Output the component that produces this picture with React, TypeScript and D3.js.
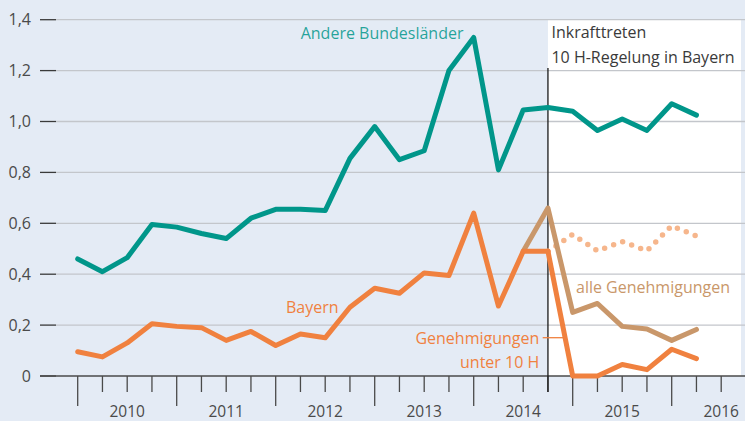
import React from "react";
import * as d3 from "d3";

// Werte je Quartal, Index 0 = 1. Quartal 2010
const andereLaender = [
  0.46, 0.41, 0.465, 0.595, 0.585, 0.56, 0.54, 0.62, 0.655, 0.655, 0.65, 0.855, 0.98,
  0.85, 0.885, 1.2, 1.33, 0.81, 1.045, 1.055, 1.04, 0.965, 1.01, 0.965, 1.07, 1.025,
];
const bayern = [
  0.095, 0.075, 0.13, 0.205, 0.195, 0.19, 0.14, 0.175, 0.12, 0.165, 0.15, 0.27, 0.345,
  0.325, 0.405, 0.395, 0.64, 0.275, 0.49, 0.49,
];
// ab Quartal 19 (Inkrafttreten)
const unter10H = [0.49, 0, 0, 0.045, 0.025, 0.105, 0.068];
// ab Quartal 18
const alleGenehmigungen = [0.49, 0.66, 0.25, 0.285, 0.195, 0.185, 0.14, 0.183];
// gepunktete Linie ab Quartal 19
const gepunktet = [0.49, 0.556, 0.492, 0.528, 0.492, 0.59, 0.55];

const yTicks = [0, 0.2, 0.4, 0.6, 0.8, 1.0, 1.2, 1.4];
const jahre = ["2010", "2011", "2012", "2013", "2014", "2015", "2016"];
const stichtag = 19;

const W = 745;
const H = 421;
const font = "'Open Sans', sans-serif";

const teal = "#00968a";
const orange = "#f0813f";
const tan = "#c9976a";
const hellOrange = "#f6b68c";

const App = () => {
  //Skalen
  const x = d3.scaleLinear().domain([0, 24]).range([77.7, 671.7]);
  const y = d3.scaleLinear().domain([0, 1.4]).range([376, 19.7]);

  const line = d3
    .line<number>()
    .x((d, i) => x(i))
    .y((d) => y(d));
  const lineFrom = (start: number) =>
    d3
      .line<number>()
      .x((d, i) => x(i + start))
      .y((d) => y(d));

  const quarterTicks = d3.range(0, 27);
  const fmt = (v: number) => (v === 0 ? "0" : d3.format(".1f")(v).replace(".", ","));

  return (
    <svg
      width={W}
      height={H}
      style={{ position: "absolute", left: 0, top: 0, fontFamily: font }}
    >
      <rect width={W} height={H} fill="#e4ebf5" />
      {/* Zeit nach Inkrafttreten */}
      <rect
        x={x(stichtag)}
        y={y(1.4)}
        width={741 - x(stichtag)}
        height={y(0) - y(1.4)}
        fill="#ffffff"
      />

      {/* Gitter und Y-Achse */}
      {yTicks.map((t) => (
        <g key={t}>
          {t > 0 && (
            <line x1={56} x2={W} y1={y(t)} y2={y(t)} stroke="#c3c6cb" strokeWidth={1.3} />
          )}
          <line x1={40} x2={56} y1={y(t)} y2={y(t)} stroke="#3a3a3a" strokeWidth={1.3} />
          <text
            x={31}
            y={y(t)}
            dy="0.35em"
            textAnchor="end"
            fontSize={16}
            fill="#4a4a4a"
          >
            {fmt(t)}
          </text>
        </g>
      ))}

      {/* X-Achse */}
      <line x1={40} x2={W} y1={y(0)} y2={y(0)} stroke="#4a4a4a" strokeWidth={1.3} />
      {quarterTicks.map((q) => (
        <line
          key={q}
          x1={x(q)}
          x2={x(q)}
          y1={y(0)}
          y2={y(0) + (q % 4 === 0 ? 30 : 16)}
          stroke="#4a4a4a"
          strokeWidth={1.3}
        />
      ))}
      {jahre.map((j, i) => (
        <text
          key={j}
          x={x(i * 4 + 2)}
          y={416.6}
          textAnchor="middle"
          fontSize={15.5}
          fill="#4a4a4a"
        >
          {j}
        </text>
      ))}

      {/* Linie Inkrafttreten */}
      <line
        x1={x(stichtag)}
        x2={x(stichtag)}
        y1={68}
        y2={y(0) + 16}
        stroke="#1a1a1a"
        strokeWidth={1.3}
      />

      {/* Datenlinien */}
      <path
        d={lineFrom(stichtag)(gepunktet) || ""}
        fill="none"
        stroke={hellOrange}
        strokeWidth={5.5}
        strokeLinecap="round"
        strokeDasharray="0 9.6"
      />
      <path
        d={lineFrom(18)(alleGenehmigungen) || ""}
        fill="none"
        stroke={tan}
        strokeWidth={5}
        strokeLinejoin="round"
        strokeLinecap="round"
      />
      <path
        d={line(bayern) || ""}
        fill="none"
        stroke={orange}
        strokeWidth={5}
        strokeLinejoin="round"
        strokeLinecap="round"
      />
      <path
        d={lineFrom(stichtag)(unter10H) || ""}
        fill="none"
        stroke={orange}
        strokeWidth={5}
        strokeLinejoin="round"
        strokeLinecap="round"
      />
      <path
        d={line(andereLaender) || ""}
        fill="none"
        stroke={teal}
        strokeWidth={5}
        strokeLinejoin="round"
        strokeLinecap="round"
      />

      {/* Beschriftungen */}
      <text x={300.7} y={39} fontSize={16} fill={teal} fillOpacity={0.85}>
        Andere Bundesländer
      </text>
      <text x={286} y={312.7} fontSize={16} fill={orange}>
        Bayern
      </text>
      <text x={539.3} y={344} textAnchor="end" fontSize={16} fill={orange}>
        Genehmigungen
      </text>
      <text x={539.3} y={368.3} textAnchor="end" fontSize={16} fill={orange}>
        unter 10 H
      </text>
      <line x1={542.7} x2={563.3} y1={337.7} y2={337.7} stroke={orange} strokeWidth={1.3} />
      <text x={576} y={293.3} fontSize={16} fill={tan}>
        alle Genehmigungen
      </text>
      <text x={x(stichtag) + 3.5} y={38} fontSize={16} fill="#3a3a3a">
        Inkrafttreten
      </text>
      <text x={x(stichtag) + 3.5} y={62.7} fontSize={16} fill="#3a3a3a">
        10 H-Regelung in Bayern
      </text>
    </svg>
  );
};

export default App;
